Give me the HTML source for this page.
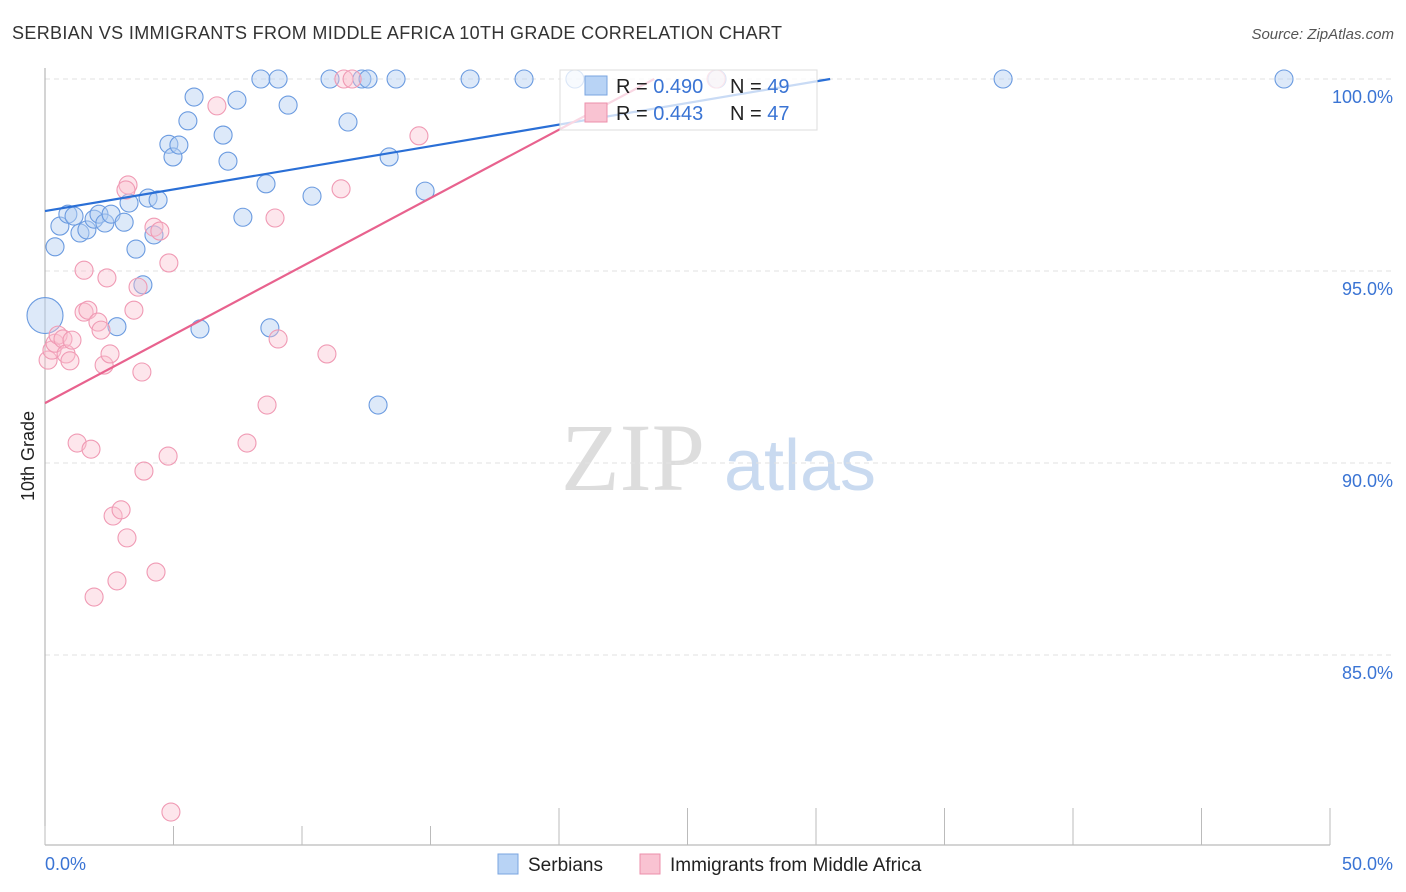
<!DOCTYPE html>
<html><head><meta charset="utf-8"><style>
body{margin:0;background:#fff;font-family:"Liberation Sans",sans-serif;}
svg{display:block}
</style></head><body>
<svg id="chart" width="1406" height="892" xmlns="http://www.w3.org/2000/svg">
<text x="12" y="39" font-size="18" fill="#333" textLength="770">SERBIAN VS IMMIGRANTS FROM MIDDLE AFRICA 10TH GRADE CORRELATION CHART</text>
<text x="1394" y="39" font-size="15" fill="#555" font-style="italic" text-anchor="end">Source: ZipAtlas.com</text>
<text transform="translate(34,456) rotate(-90)" font-size="18" fill="#222" text-anchor="middle">10th Grade</text>
<g><text x="633" y="490" font-size="96" fill="#ddd" font-family="Liberation Serif,serif" text-anchor="middle">ZIP</text><text x="800" y="490" font-size="72" fill="#c9daf0" text-anchor="middle">atlas</text></g>
<g id="grid"></g><g id="axes"></g><g id="pts"></g><g id="lines"></g>
<g>
<rect x="560" y="70" width="257" height="60" fill="#fff" fill-opacity="0.75" stroke="#ddd"/>
<rect x="585" y="76" width="22" height="19" fill="#b8d3f5" stroke="#7aa5e0"/>
<rect x="585" y="103" width="22" height="19" fill="#f9c3d2" stroke="#ec8fab"/>
<text x="616" y="93" font-size="20" fill="#222">R = <tspan fill="#3a74d4">0.490</tspan></text>
<text x="730" y="93" font-size="20" fill="#222">N = <tspan fill="#3a74d4">49</tspan></text>
<text x="616" y="120" font-size="20" fill="#222">R = <tspan fill="#3a74d4">0.443</tspan></text>
<text x="730" y="120" font-size="20" fill="#222">N = <tspan fill="#3a74d4">47</tspan></text>
</g>
<g>
<rect x="498" y="854" width="20" height="20" fill="#b8d3f5" stroke="#7aa5e0"/>
<text x="528" y="871" font-size="19" fill="#222">Serbians</text>
<rect x="640" y="854" width="20" height="20" fill="#f9c3d2" stroke="#ec8fab"/>
<text x="670" y="871" font-size="19" fill="#222">Immigrants from Middle Africa</text>
</g>
</svg>
<script>
const yTicks=[100,95,90,85];
const yTickLabels=["100.0%","95.0%","90.0%","85.0%"];
const xTickLabels=["0.0%","50.0%"];
const serbX=[0,0.39,0.58,0.89,1.13,1.36,1.63,1.91,2.1,2.33,2.57,3.08,2.8,3.27,3.54,3.81,4.01,4.24,4.4,4.82,4.98,5.21,5.56,5.8,6.03,6.93,7.12,7.47,7.7,8.4,8.6,8.75,9.07,9.46,10.39,11.09,11.79,12.33,12.57,12.96,13.39,13.66,14.79,16.54,18.64,20.62,26.15,37.28,48.21];
const serbY=[93.84,95.63,96.17,96.48,96.43,95.99,96.07,96.35,96.48,96.25,96.48,96.27,93.55,96.77,95.57,94.64,96.9,95.94,96.85,98.3,97.97,98.28,98.91,99.53,93.49,98.54,97.86,99.45,96.4,100,97.27,93.52,100,99.32,96.95,100,98.88,100,100,91.51,97.97,100,97.08,100,100,100,100,100,100];
const serbR=[18,9,9,9,9,9,9,9,9,9,9,9,9,9,9,9,9,9,9,9,9,9,9,9,9,9,9,9,9,9,9,9,9,9,9,9,9,9,9,9,9,9,9,9,9,9,9,9,9];
const immX=[0.12,0.27,0.39,0.51,0.7,0.82,0.97,1.05,1.25,1.52,1.52,1.67,1.79,1.91,2.06,2.18,2.3,2.41,2.53,2.65,2.8,2.96,3.19,3.23,3.15,3.46,3.62,3.77,3.85,4.24,4.32,4.47,4.79,4.82,4.9,6.69,7.86,8.64,8.95,9.07,10.97,11.52,11.63,11.95,14.55,26.11];
const immY=[92.68,92.94,93.12,93.33,93.23,92.84,92.66,93.2,90.52,95.02,93.93,93.98,90.36,86.51,93.67,93.46,92.55,94.82,92.84,88.62,86.93,88.78,88.05,97.24,97.11,93.98,94.58,92.37,89.79,96.14,87.16,96.04,90.18,95.21,80.91,99.3,90.52,91.51,96.38,93.23,92.84,97.14,100,100,98.52,100];
const serbLine=[96.56,0.1126];
const immLine=[91.56,0.356];
const X0=45,X1=1330,Y0=79,PX=38.4;
const xs=v=>X0+(v/50)*(X1-X0), ys=v=>Y0+(100-v)*PX;
const NS="http://www.w3.org/2000/svg";
function mk(p,t,a){const e=document.createElementNS(NS,t);for(const k in a)e.setAttribute(k,a[k]);document.getElementById(p).appendChild(e);return e;}
yTicks.forEach((t,i)=>{
 const l=mk('grid','line',{x1:X0,x2:1394,y1:ys(t),y2:ys(t),stroke:'#e2e2e2','stroke-dasharray':'5,4'});
 
 
 const tx=mk('grid','text',{x:1393,y:ys(t)+24,'font-size':18,fill:'#3a74d4','text-anchor':'end'});tx.textContent=yTickLabels[i];
 
 
});
const ax=mk('axes','line',{x1:X0,x2:X0,y1:68,y2:845,stroke:'#aaa'});


const bx=mk('axes','line',{x1:X0,x2:X1,y1:845,y2:845,stroke:'#aaa'});


for(let i=0;i<=10;i++){const x=xs(i*5);const t=mk('axes','line',{x1:x,x2:x,y1:i>=4?808:826,y2:845,stroke:'#bbb'});
 
 }
const l0=mk('axes','text',{x:45,y:870,'font-size':18,fill:'#3a74d4'});l0.textContent=xTickLabels[0];


const l1=mk('axes','text',{x:1393,y:870,'font-size':18,fill:'#3a74d4','text-anchor':'end'});l1.textContent=xTickLabels[1];


serbX.forEach((v,i)=>{const c=mk('pts','circle',{cx:xs(v),cy:ys(serbY[i]),r:serbR[i],fill:'#b3cff2','fill-opacity':0.45,stroke:'#6b9be0','stroke-width':1.1});
 
 });
immX.forEach((v,i)=>{const c=mk('pts','circle',{cx:xs(v),cy:ys(immY[i]),r:9,fill:'#f9c0d0','fill-opacity':0.4,stroke:'#f09ab4','stroke-width':1.1});
 
 });
function tl(p,c,n){const xe=(100-p[0])/p[1];const l=mk('lines','line',{x1:xs(0),y1:ys(p[0]),x2:xs(xe),y2:ys(100),stroke:c,'stroke-width':2.2});
 
 }
tl(serbLine,'#2a6fd6','serbians-trendline');
tl(immLine,'#e8628e','immigrants-trendline');
</script>
</body></html>
